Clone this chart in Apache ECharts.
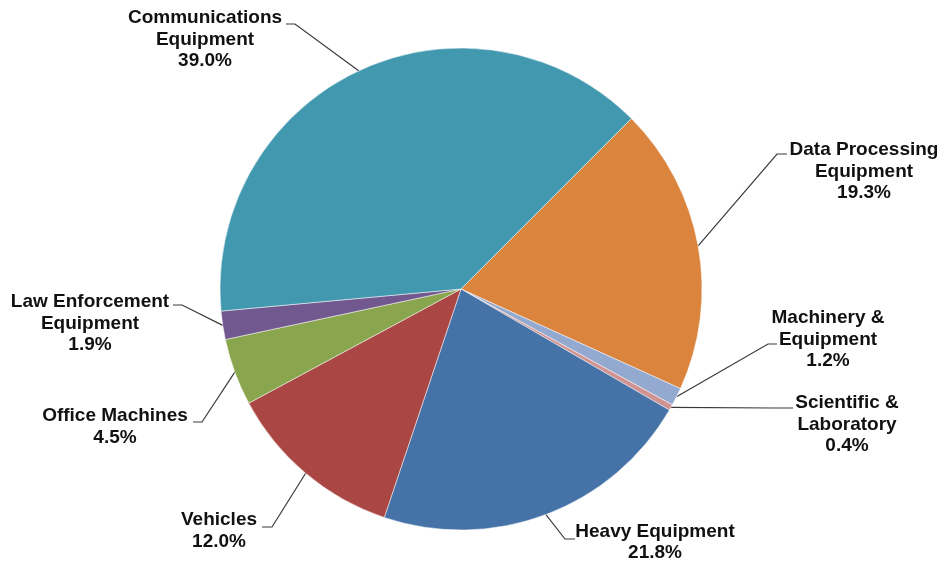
<!DOCTYPE html>
<html>
<head>
<meta charset="utf-8">
<script src="https://cdn.jsdelivr.net/npm/echarts@6/dist/echarts.min.js"></script>
<style>html,body{margin:0;padding:0;background:#fff}#c{width:944px;height:563px}</style>
</head>
<body>
<div id="c"></div>
<script>
// Data (clockwise from Data Processing)
var categories = [
  'Data Processing\nEquipment',
  'Machinery &\nEquipment',
  'Scientific &\nLaboratory',
  'Heavy Equipment',
  'Vehicles',
  'Office Machines',
  'Law Enforcement\nEquipment',
  'Communications\nEquipment'
];
var values = [19.3, 1.2, 0.4, 21.8, 12.0, 4.5, 1.9, 39.0];

// Styles / layout
var colors = ['#DB843D', '#93A9CF', '#D19392', '#4572A7', '#AA4643', '#89A54E', '#71588F', '#4198AF'];
// label layout: text centre x, first-line centre y, leader end x/y, elbow x
var labelPos = [
  {cx: 864, cy: 150, ex: 787, ey: 154, bx: 777},
  {cx: 828, cy: 318, ex: 777, ey: 344, bx: 768},
  {cx: 847, cy: 403, ex: 793, ey: 408, bx: 773},
  {cx: 655, cy: 531.5, ex: 575, ey: 539, bx: 565},
  {cx: 219, cy: 520, ex: 262, ey: 527, bx: 272},
  {cx: 115, cy: 416, ex: 193, ey: 422, bx: 202},
  {cx: 90, cy: 302, ex: 173, ey: 305, bx: 182},
  {cx: 205, cy: 18, ex: 286, ey: 24, bx: 295}
];
var LH = 21.5;

var chart = echarts.init(document.getElementById('c'), null, {renderer: 'canvas'});
chart.setOption({
  animation: false,
  backgroundColor: '#fff',
  series: [{
    type: 'pie',
    center: [461, 289],
    radius: 241,
    startAngle: 45,
    clockwise: true,
    avoidLabelOverlap: false,
    itemStyle: {borderColor: '#fff', borderWidth: 0.5},
    data: categories.map(function (c, i) {
      return {name: c, value: values[i], itemStyle: {color: colors[i]}};
    }),
    label: {
      show: true,
      position: 'outside',
      fontFamily: 'Liberation Sans, Arial, sans-serif',
      fontWeight: 'bold',
      fontSize: 19,
      lineHeight: LH,
      color: '#111',
      formatter: function (p) {
        return p.name + '\n' + p.value.toFixed(1) + '%';
      }
    },
    labelLine: {
      show: true,
      length: 10,
      length2: 10,
      lineStyle: {color: '#3a3a3a', width: 1.2}
    },
    labelLayout: function (params) {
      var L = labelPos[params.dataIndex];
      var anchor = params.labelLinePoints ? params.labelLinePoints[0] : [L.bx, L.ey];
      return {
        x: L.cx,
        y: L.cy - LH / 2,
        align: 'center',
        verticalAlign: 'top',
        labelLinePoints: [anchor, [L.bx, L.ey], [L.ex, L.ey]]
      };
    }
  }]
});
</script>
</body>
</html>
